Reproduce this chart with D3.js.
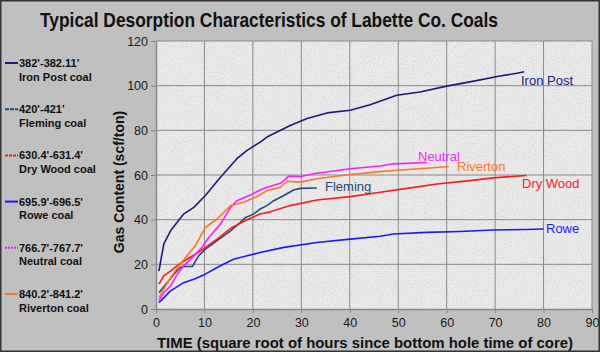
<!DOCTYPE html>
<html>
<head>
<meta charset="utf-8">
<script src="https://cdn.jsdelivr.net/npm/d3@7"></script>
<style>
  body { margin: 0; background: #c0c0c0; }
  svg { display: block; font-family: "Liberation Sans", Arial, sans-serif; }
</style>
</head>
<body>
<div id="chart"></div>
<script>
// 数据 (x = sqrt hours, y = scf/ton)
var ironPost = [[0.6,17],[1.6,29],[3,35],[5.7,42.5],[7.8,45.5],[10.2,50.8],[13.3,59],[16.7,67.3],[18.8,71],[21.5,74.7],[22.9,77],[27.7,82.2],[31.2,85.3],[35.3,87.8],[40.1,89],[44.2,91.5],[49.7,95.7],[54.5,97.2],[60,99.8],[64.8,101.7],[71,104.3],[74.8,105.7],[76,106.2]];
var fleming = [[0.6,7.3],[2.3,11.8],[4,16.3],[5,18.6],[5.7,19],[7.5,19],[8.8,23.8],[10.2,26.8],[12.6,30.6],[15.4,35],[17.4,38.8],[18.5,41],[20.2,42.6],[21.5,44.8],[22.9,46.3],[24.3,48.5],[26.4,50.8],[28.4,53.3],[29.8,54],[33.2,54.2]];
var dryWood = [[0.6,11.1],[1.6,14.8],[3,17],[4.7,20],[6.4,22.3],[9.2,26],[12.6,31.3],[15.7,36.5],[18.8,40],[21.5,42.5],[23.6,43.5],[27.7,46.3],[33.2,48.8],[40.1,50.3],[46.3,52.3],[51.1,53.8],[58,56],[64.8,57.5],[69.6,58.7],[76.5,59.8]];
var rowe = [[0.6,2.8],[1.6,5],[3,8.1],[5.7,11.8],[7.8,13.3],[10.2,15.6],[12.6,18.6],[16,22.3],[18.8,23.8],[21.5,25.3],[26.4,27.6],[33.2,29.8],[40.1,31.3],[46.3,32.6],[49,33.6],[55.9,34.3],[62.8,34.7],[69.6,35.4],[76.5,35.6],[80,35.8]];
var neutral = [[0.6,3.6],[1.6,7.3],[3,10.3],[4.4,15.6],[5.7,19.3],[7.5,23],[9.5,27.6],[10.9,32],[13.3,38],[15.4,45.5],[16.7,48.5],[19.5,51],[21.5,53.3],[22.9,54.5],[25.7,56.3],[26.4,57.5],[27.4,59.5],[29.8,59.3],[33.2,60.8],[40.1,62.8],[46.3,64],[49,65],[55.9,65.6]];
var riverton = [[0.6,5],[1.6,8.9],[3,14],[4.7,19.3],[6.4,23.8],[8.1,28.3],[10.2,36.5],[12.6,40.3],[15.4,46.3],[18.1,47.8],[20.9,50.4],[22.9,53],[25.7,54.5],[27,57.2],[29.8,56.8],[33.2,58.3],[40.1,60.2],[46.3,61.5],[49,62],[55.9,63],[60.4,63.8]];

var seriesNames = ["Iron Post", "Fleming", "Dry Wood", "Rowe", "Neutral", "Riverton"];
var seriesDepths = ["382'-382.11'", "420'-421'", "630.4'-631.4'", "695.9'-696.5'", "766.7'-767.7'", "840.2'-841.2'"];
var seriesData = [ironPost, fleming, dryWood, rowe, neutral, riverton];
var seriesColors = ["#1b1b80", "#284a75", "#ff1a1a", "#1a1aff", "#ff1aff", "#ff7524"];
var legendDash = [null, "4,1", "3,1", null, "2,1", null];

var xTicks = [0,10,20,30,40,50,60,70,80,90];
var yTicks = [0,20,40,60,80,100,120];

var W = 600, H = 352;
var margin = { top: 41, right: 8, bottom: 43, left: 156 };

var svg = d3.select("#chart").append("svg")
    .attr("width", W).attr("height", H);

// 背景
svg.append("rect").attr("width", W).attr("height", H).attr("fill", "#c0c0c0");

var defs = svg.append("defs");
var f = defs.append("filter").attr("id", "speck").attr("x", 0).attr("y", 0).attr("width", "100%").attr("height", "100%");
f.append("feTurbulence").attr("type", "fractalNoise").attr("baseFrequency", 0.9).attr("numOctaves", 2).attr("seed", 3).attr("result", "n");
f.append("feColorMatrix").attr("in", "n").attr("type", "matrix")
  .attr("values", "0 0 0 0 0.55  0 0 0 0 0.55  0 0 0 0 0.55  1.2 0 0 0 -0.45").attr("result", "c");
f.append("feComposite").attr("in", "c").attr("in2", "SourceGraphic").attr("operator", "over");

var x = d3.scaleLinear().domain([0, 90]).range([margin.left, W - margin.right]);
var y = d3.scaleLinear().domain([0, 120]).range([H - margin.bottom, margin.top]);

svg.append("rect")
  .attr("x", x(0)).attr("y", y(120))
  .attr("width", x(90) - x(0)).attr("height", y(0) - y(120))
  .attr("fill", "#ededed")
  .attr("filter", "url(#speck)");

// 网格线
svg.append("g").selectAll("line").data(xTicks.slice(1)).join("line")
  .attr("x1", d => x(d)).attr("x2", d => x(d))
  .attr("y1", y(0)).attr("y2", y(120))
  .attr("stroke", "#8a8a8a").attr("stroke-width", 1);
svg.append("g").selectAll("line").data(yTicks.slice(1)).join("line")
  .attr("x1", x(0)).attr("x2", x(90))
  .attr("y1", d => y(d)).attr("y2", d => y(d))
  .attr("stroke", "#8a8a8a").attr("stroke-width", 1);

// 坐标轴
var yAxis = svg.append("g").attr("transform", `translate(${x(0)},0)`)
  .call(d3.axisLeft(y).tickValues(yTicks).tickSize(5).tickPadding(3).tickSizeOuter(0));
var xAxis = svg.append("g").attr("transform", `translate(0,${y(0)})`)
  .call(d3.axisBottom(x).tickValues(xTicks).tickSize(4).tickPadding(5).tickSizeOuter(0));
[xAxis, yAxis].forEach(function(a){
  a.select(".domain").attr("stroke", "#888").attr("stroke-width", 1.5);
  a.selectAll(".tick line").attr("stroke", "#888");
  a.selectAll("text").attr("font-size", 12.5).attr("fill", "#1a1a1a")
   .attr("font-family", "Liberation Sans, Arial, sans-serif");
});

// 曲线
var line = d3.line().x(d => x(d[0])).y(d => y(d[1]));
svg.append("g").selectAll("path").data(seriesData).join("path")
  .attr("d", line)
  .attr("fill", "none")
  .attr("stroke", (d, i) => seriesColors[i])
  .attr("stroke-width", 1.6)
  .attr("stroke-linejoin", "round");

// 曲线标签
var labelPos = [[521, 85], [325, 191], [522, 188], [546, 233], [418, 161], [457, 171]];
svg.append("g").selectAll("text").data(seriesNames).join("text")
  .attr("x", (d, i) => labelPos[i][0])
  .attr("y", (d, i) => labelPos[i][1])
  .attr("fill", (d, i) => seriesColors[i])
  .attr("font-size", 13)
  .text(d => d);

// 标题
svg.append("text")
  .attr("x", 40).attr("y", 27)
  .attr("font-size", 21).attr("font-weight", "bold").attr("fill", "#111")
  .attr("textLength", 458).attr("lengthAdjust", "spacingAndGlyphs")
  .text("Typical Desorption Characteristics of Labette Co. Coals");

svg.append("text")
  .attr("transform", "translate(124,182) rotate(-90)")
  .attr("text-anchor", "middle")
  .attr("font-size", 14).attr("font-weight", "bold").attr("fill", "#111")
  .text("Gas Content (scf/ton)");

svg.append("text")
  .attr("x", 157).attr("y", 348)
  .attr("font-size", 15.5).attr("font-weight", "bold").attr("fill", "#111")
  .attr("textLength", 416).attr("lengthAdjust", "spacingAndGlyphs")
  .text("TIME (square root of hours since bottom hole time of core)");

// 图例
var legend = svg.append("g").attr("id", "legend");
var items = legend.selectAll("g").data(seriesNames).join("g")
  .attr("transform", (d, i) => `translate(0, ${63 + i * 46.2})`);
items.append("line")
  .attr("x1", 5).attr("x2", 18).attr("y1", 0).attr("y2", 0)
  .attr("stroke", (d, i) => seriesColors[i]).attr("stroke-width", 2)
  .attr("stroke-dasharray", (d, i) => legendDash[i]);
items.append("text")
  .attr("x", 19).attr("y", 4)
  .attr("font-size", 11).attr("font-weight", "bold").attr("fill", "#111")
  .text((d, i) => seriesDepths[i]);
items.append("text")
  .attr("x", 19).attr("y", 17.5)
  .attr("font-size", 11).attr("font-weight", "bold").attr("fill", "#111")
  .text(d => d + " coal");

// 边框
svg.append("rect").attr("x", 0.75).attr("y", 0.75).attr("width", W - 1.5).attr("height", H - 1.5)
  .attr("fill", "none").attr("stroke", "#333").attr("stroke-width", 1.5);
</script>
</body>
</html>
